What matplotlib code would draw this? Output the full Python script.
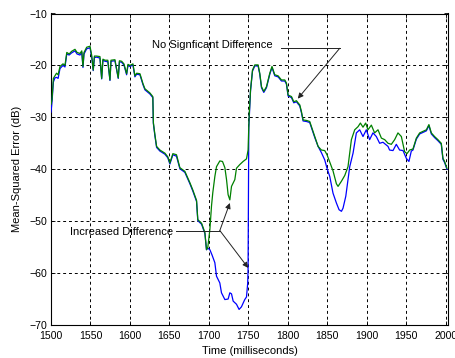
import matplotlib
matplotlib.use("Agg")
import matplotlib.pyplot as plt

# ---------------- data ----------------
green_t = [1500, 1501.3, 1503, 1505, 1507, 1509, 1511.4, 1515.2, 1517.7, 1520, 1523, 1526, 1530.4, 1533,
           1536.7, 1539, 1540.5, 1541.8, 1545.2, 1549.4, 1551.5, 1553.5, 1555, 1557.8, 1562, 1564.2, 1565.8,
           1568.4, 1572, 1574.7, 1576, 1581, 1585.2, 1586.7, 1589.5, 1592.4, 1595.8, 1597.5, 1600, 1603.8,
           1606.3, 1608.5, 1612.7, 1616.5, 1619, 1625.3, 1629, 1629.7, 1631.6, 1633.8, 1638, 1644.3, 1648,
           1650.6, 1654.4, 1659, 1663.3, 1669.6, 1676, 1679.7, 1684.4, 1686, 1690.8, 1695, 1697, 1698.7,
           1701.3, 1703.4, 1705, 1707.6, 1709.7, 1713.9, 1717.3, 1720.3, 1722.4, 1724.4, 1726.6, 1728.7,
           1732.9, 1735, 1739.2, 1743.4, 1747.7, 1749.7, 1751, 1752.8, 1755.3, 1758.2, 1762.4, 1764.5,
           1766.7, 1769.6, 1773, 1777.2, 1780, 1783.5, 1787.7, 1792, 1796.2, 1798.3, 1800.4, 1804.7, 1807.6,
           1811, 1813, 1815.2, 1817.3, 1819.4, 1823.7, 1827.8, 1830, 1834.2, 1838.4, 1842.6, 1846.8, 1849.7,
           1853.2, 1857.3, 1861.6, 1863.7, 1868, 1872.2, 1876.3, 1878.5, 1880.6, 1884.8, 1889, 1892, 1895.3,
           1898.7, 1901.6, 1905.9, 1910, 1914.3, 1918.6, 1922.8, 1927, 1931.2, 1935.4, 1939.6, 1943.9, 1948,
           1951, 1954.4, 1958.6, 1962.9, 1967.1, 1971.3, 1975.6, 1978.8, 1981.9, 1986, 1990.2, 1994.5,
           1996.6, 1998.7, 2001.6]
green_db = [-27.5, -26.6, -22.5, -22, -21.5, -21.8, -20.2, -19.7, -20, -17.5, -17.8, -17.3, -16.9, -17.5,
            -17.7, -17.2, -20.2, -17.5, -16.5, -16.3, -18, -20.9, -18.2, -18.2, -18.3, -22.5, -18.8,
            -19, -19, -22.8, -19, -18.9, -22.4, -19.1, -19.2, -19.7, -21.6, -19.8, -20, -19.7,
            -22, -21.5, -21.6, -23.5, -24.5, -25.3, -26, -31, -33.3, -35.6, -36.3, -36.9, -37.6,
            -38.8, -37, -37.2, -39.7, -40.4, -42.6, -44, -46, -49.7, -50.4, -52.2, -55.5, -55,
            -51.6, -47, -44.5, -41.4, -39.5, -38.4, -38.5, -39.7, -42, -44.9, -45.9, -43.3,
            -42, -39.8, -39.1, -38.5, -38, -36.3, -29.8, -24.7, -20.9, -19.9, -19.9, -21.5,
            -24.1, -25, -24.1, -21.5, -20.2, -21.8, -22, -22.8, -22.8, -23.4, -25.7, -26, -27,
            -26.8, -27.2, -27.6, -28.9, -30.5, -30.6, -30.8, -31.8, -33.7, -35.6, -36.3, -36.4, -37.2,
            -38.6, -40.3, -42.8, -43.3, -42.3, -41.2, -39.5, -36.8, -34.3, -32.4, -31.8, -31.1, -31.9,
            -31.1, -32.4, -31.5, -33, -32.4, -34, -34.3, -35, -35.2, -34.3, -33, -33.7, -36.6,
            -37, -36.3, -36.1, -34, -33, -32.7, -32.4, -31.4, -33, -33.7, -34.3, -35,
            -37.9, -38.5, -39.8]

blue_t = [1500, 1501.3, 1503, 1505, 1507, 1509, 1511.4, 1515.2, 1517.7, 1520, 1523, 1526, 1530.4, 1533,
          1536.7, 1539, 1540.5, 1541.8, 1545.2, 1549.4, 1551.5, 1553.5, 1555, 1557.8, 1562, 1564.2, 1565.8,
          1568.4, 1572, 1574.7, 1576, 1581, 1585.2, 1586.7, 1589.5, 1592.4, 1595.8, 1597.5, 1600, 1603.8,
          1606.3, 1608.5, 1612.7, 1616.5, 1619, 1625.3, 1629, 1629.7, 1631.6, 1633.8, 1638, 1644.3, 1648,
          1650.6, 1654.4, 1659, 1663.3, 1669.6, 1676, 1679.7, 1684.4, 1686, 1690.8, 1695, 1697, 1698.7,
          1701.3, 1704, 1707.6, 1709.7, 1713.9, 1716, 1720.3, 1724.4, 1726.6, 1728.7, 1730.8, 1735, 1738.3,
          1741.3, 1745.5, 1747.7, 1749.2, 1749.7, 1750.2, 1750.6, 1751.3, 1752.8, 1755.3, 1758.2, 1762.4,
          1764.5, 1766.7, 1769.6, 1773, 1777.2, 1780, 1783.5, 1787.7, 1792, 1796.2, 1798.3, 1800.4, 1804.7,
          1807.6, 1811, 1813, 1815.2, 1817.3, 1819.4, 1823.7, 1827.8, 1830, 1834.2, 1838.4, 1842.6, 1846.8,
          1849.7, 1853.2, 1857.3, 1861.6, 1865, 1868, 1870, 1873.5, 1876.3, 1878.5, 1882.7, 1886.9, 1891.1,
          1895.3, 1899.5, 1903.7, 1907.9, 1912.2, 1916.4, 1920.6, 1927, 1929, 1933.3, 1937.5, 1941.7, 1946,
          1950.2, 1953.5, 1956.5, 1958.6, 1962.9, 1967.1, 1971.3, 1975.6, 1978.8, 1981.9, 1986, 1990.2,
          1994.5, 1996.6, 1998.7, 2001.6]
blue_db = [-29, -27, -23.2, -22.4, -22.3, -22.5, -20.6, -20, -20.3, -17.8, -18, -17.6, -17.2, -17.8,
           -18, -17.5, -20.4, -17.8, -16.8, -16.6, -18.3, -21, -18.5, -18.4, -18.6, -22.6, -19,
           -19.2, -19.3, -22.9, -19.2, -19.1, -22.5, -19.3, -19.4, -19.9, -21.8, -20, -20.2, -19.9,
           -22.2, -21.7, -21.8, -23.7, -24.7, -25.5, -26.2, -31.2, -33.5, -35.8, -36.5, -37.1, -37.8,
           -39, -37.2, -37.5, -39.9, -40.6, -42.8, -44.2, -46.2, -49.9, -50.6, -52.4, -55.5, -55.2,
           -55.5, -56.5, -58, -60.6, -61.9, -63.8, -65.1, -65, -63.8, -64, -65.4, -66, -67,
           -66.5, -65.1, -64.6, -62, -59.3, -45, -32, -29.8, -24.9, -21.1, -20.1, -20.1,
           -21.7, -24.3, -25.2, -24.3, -21.7, -20.4, -22, -22.2, -23, -23, -23.6, -25.9, -26.2,
           -27.2, -27, -27.4, -27.8, -29.1, -30.7, -30.8, -31, -32, -33.9, -35.6, -36.8, -38.2,
           -39.8, -41.4, -44.6, -46.5, -47.8, -48.1, -47.5, -45.2, -42, -39.5, -36.9, -33, -32.4,
           -33.7, -32.4, -34.3, -33, -33.7, -35, -34.8, -35.6, -36.3, -36.4, -35.2, -36.3, -36.4,
           -37.9, -38.5, -36.5, -36.3, -34.2, -33.2, -32.9, -32.6, -31.6, -33.2, -33.9, -34.5,
           -35.2, -38.1, -38.7, -40]

x_ticks = [1500, 1550, 1600, 1650, 1700, 1750, 1800, 1850, 1900, 1950, 2000]
y_ticks = [-70, -60, -50, -40, -30, -20, -10]
x_label = "Time (milliseconds)"
y_label = "Mean-Squared Error (dB)"
note_same = "No Signficant Difference"
note_diff = "Increased Difference"

# ---------------- figure ----------------
plt.rcParams['font.family'] = ['Liberation Sans', 'DejaVu Sans']
plt.rcParams['font.size'] = 8

fig = plt.figure(figsize=(4.56, 3.58), dpi=100)
ax = fig.add_axes([51 / 456, 1 - 325 / 358, 397 / 456, (325 - 13.5) / 358])

ax.plot(blue_t, blue_db, color='#0000ff', lw=0.9, zorder=3)
ax.plot(green_t, green_db, color='#008000', lw=0.9, zorder=4)

ax.set_xlim(1500, 2003)
ax.set_ylim(-70, -10)
ax.set_xticks(x_ticks)
ax.set_yticks(y_ticks)
ax.grid(True, color='black', linestyle=(0, (3, 3)), linewidth=0.7)
ax.tick_params(direction='in', length=3, width=0.6, top=True, right=True, labelsize=7.6,
               colors='black')
ax.tick_params(axis='x', pad=4)
ax.tick_params(axis='y', pad=3)
for s in ax.spines.values():
    s.set_linewidth(0.8)
ax.set_xlabel(x_label, fontsize=8, labelpad=4)
ax.set_ylabel(y_label, fontsize=8, labelpad=5)

# annotations
lc = '#222222'
ax.text(1627.8, -16.1, note_same, fontsize=8, ha='left', va='center', zorder=6)
ax.plot([1792, 1865.8], [-16.7, -16.7], color=lc, lw=0.7, zorder=6)
ax.annotate('', xy=(1812.7, -26.4), xytext=(1865.8, -16.7),
            arrowprops=dict(arrowstyle='-|>', color=lc, lw=0.7, mutation_scale=8,
                            shrinkA=0, shrinkB=0), zorder=6)

ax.text(1654.8, -52.0, note_diff, fontsize=8, ha='right', va='center', zorder=6)
ax.plot([1659, 1713.9], [-51.8, -51.8], color=lc, lw=0.7, zorder=6)
ax.annotate('', xy=(1726.6, -46.5), xytext=(1713.9, -51.8),
            arrowprops=dict(arrowstyle='-|>', color=lc, lw=0.7, mutation_scale=8,
                            shrinkA=0, shrinkB=0), zorder=6)
ax.annotate('', xy=(1749.8, -59.0), xytext=(1713.9, -51.8),
            arrowprops=dict(arrowstyle='-|>', color=lc, lw=0.7, mutation_scale=8,
                            shrinkA=0, shrinkB=0), zorder=6)

fig.savefig('out.png', dpi=100)
